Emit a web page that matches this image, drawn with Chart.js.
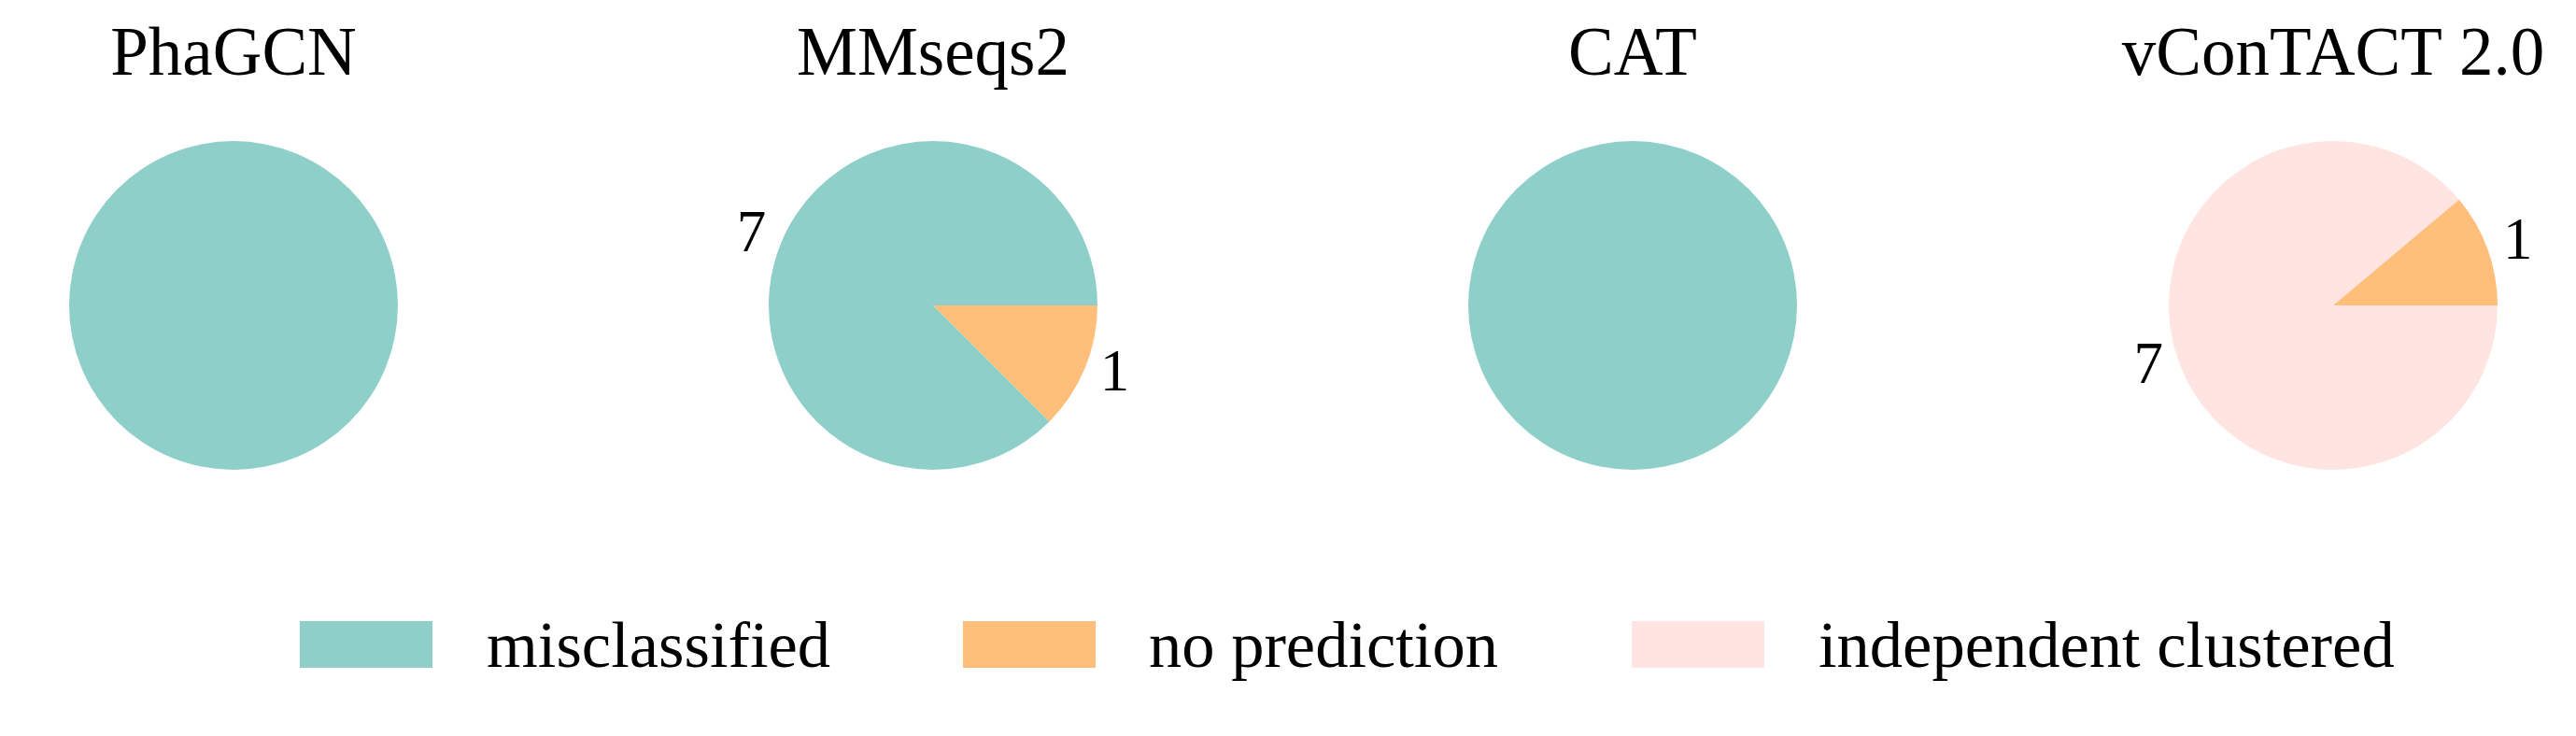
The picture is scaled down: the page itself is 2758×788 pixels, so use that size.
<!DOCTYPE html>
<html>
<head>
<meta charset="utf-8">
<script src="https://cdn.jsdelivr.net/npm/chart.js@4"></script>
<style>
  html, body { margin: 0; padding: 0; background: #ffffff; }
  body { width: 2758px; height: 788px; position: relative; overflow: hidden; }
  canvas { position: absolute; top: 0; }
  .leg-box { position: absolute; width: 142px; height: 50px; top: 665px; }
  .leg-text { position: absolute; top: 654.5px; font-family: 'Liberation Serif', 'Times New Roman', serif;
              font-size: 70.5px; line-height: 70.5px; color: #000; white-space: nowrap; }
</style>
</head>
<body>
<canvas id="c0" width="496" height="540"></canvas>
<canvas id="c1" width="496" height="540"></canvas>
<canvas id="c2" width="496" height="540"></canvas>
<canvas id="c3" width="496" height="540"></canvas>
<div id="legend"></div>
<script>
// ---- data ----
const tools = ['PhaGCN', 'MMseqs2', 'CAT', 'vConTACT 2.0'];
const categories = ['misclassified', 'no prediction', 'independent clustered'];
// slice sizes as drawn
const misclassified = [8, 7, 8, 0];
const noPrediction = [0, 1, 0, 1];
const independentClustered = [0, 0, 0, 8];
// numbers printed next to the slices
const misclassifiedLabels = ['', '7', '', ''];
const noPredictionLabels = ['', '1', '', '1'];
const independentClusteredLabels = ['', '', '', '7'];
const colors = ['#8FCFC9', '#FFBE7A', '#FFE4E1'];

// ---- layout ----
const centersX = [250, 999, 1748, 2498];
const canvasHalf = 248;
const legendBoxX = [321, 1031, 1747];
const legendTextX = [521, 1230, 1947];

const FONT = "'Liberation Serif', 'Times New Roman', serif";

const valueLabels = {
  id: 'valueLabels',
  afterDatasetsDraw(chart) {
    const ctx = chart.ctx;
    const ds = chart.data.datasets[0];
    const meta = chart.getDatasetMeta(0);
    ctx.save();
    ctx.font = '63px ' + FONT;
    ctx.fillStyle = '#000';
    ctx.textBaseline = 'middle';
    meta.data.forEach((arc, i) => {
      const txt = ds.sliceLabels[i];
      if (!txt) return;
      const p = arc.getProps(['x', 'y', 'startAngle', 'endAngle', 'outerRadius'], true);
      const mid = (p.startAngle + p.endAngle) / 2;
      const r = p.outerRadius * 1.1;
      const x = p.x + r * Math.cos(mid);
      const y = p.y + r * Math.sin(mid);
      ctx.textAlign = x < p.x ? 'right' : 'left';
      ctx.fillText(txt, x, y);
    });
    ctx.restore();
  }
};

tools.forEach((tool, t) => {
  const vals = [misclassified[t], noPrediction[t], independentClustered[t]];
  const labs = [misclassifiedLabels[t], noPredictionLabels[t], independentClusteredLabels[t]];
  // matplotlib draws counter-clockwise from 3 o'clock; Chart.js draws clockwise,
  // so feed the slices in reverse order starting at 3 o'clock.
  const order = [2, 1, 0];
  const canvas = document.getElementById('c' + t);
  canvas.style.left = (centersX[t] - canvasHalf) + 'px';
  new Chart(canvas, {
    type: 'pie',
    data: {
      labels: order.map(i => categories[i]),
      datasets: [{
        data: order.map(i => vals[i]),
        sliceLabels: order.map(i => labs[i]),
        backgroundColor: order.map(i => colors[i]),
        borderWidth: 0,
        hoverOffset: 0
      }]
    },
    options: {
      responsive: false,
      animation: false,
      rotation: 90,
      events: [],
      layout: { padding: { top: 0, bottom: 37, left: 0, right: 0 } },
      plugins: {
        legend: { display: false },
        tooltip: { enabled: false },
        title: {
          display: true,
          text: tool,
          color: '#000',
          font: { family: FONT, size: 73, weight: 'normal', lineHeight: 1.2 },
          padding: { top: 17, bottom: 46.4 }
        }
      }
    },
    plugins: [valueLabels]
  });
});

// ---- legend ----
const legend = document.getElementById('legend');
categories.forEach((cat, i) => {
  const box = document.createElement('div');
  box.className = 'leg-box';
  box.style.left = legendBoxX[i] + 'px';
  box.style.background = colors[i];
  legend.appendChild(box);
  const txt = document.createElement('div');
  txt.className = 'leg-text';
  txt.style.left = legendTextX[i] + 'px';
  txt.textContent = cat;
  legend.appendChild(txt);
});
</script>
</body>
</html>
